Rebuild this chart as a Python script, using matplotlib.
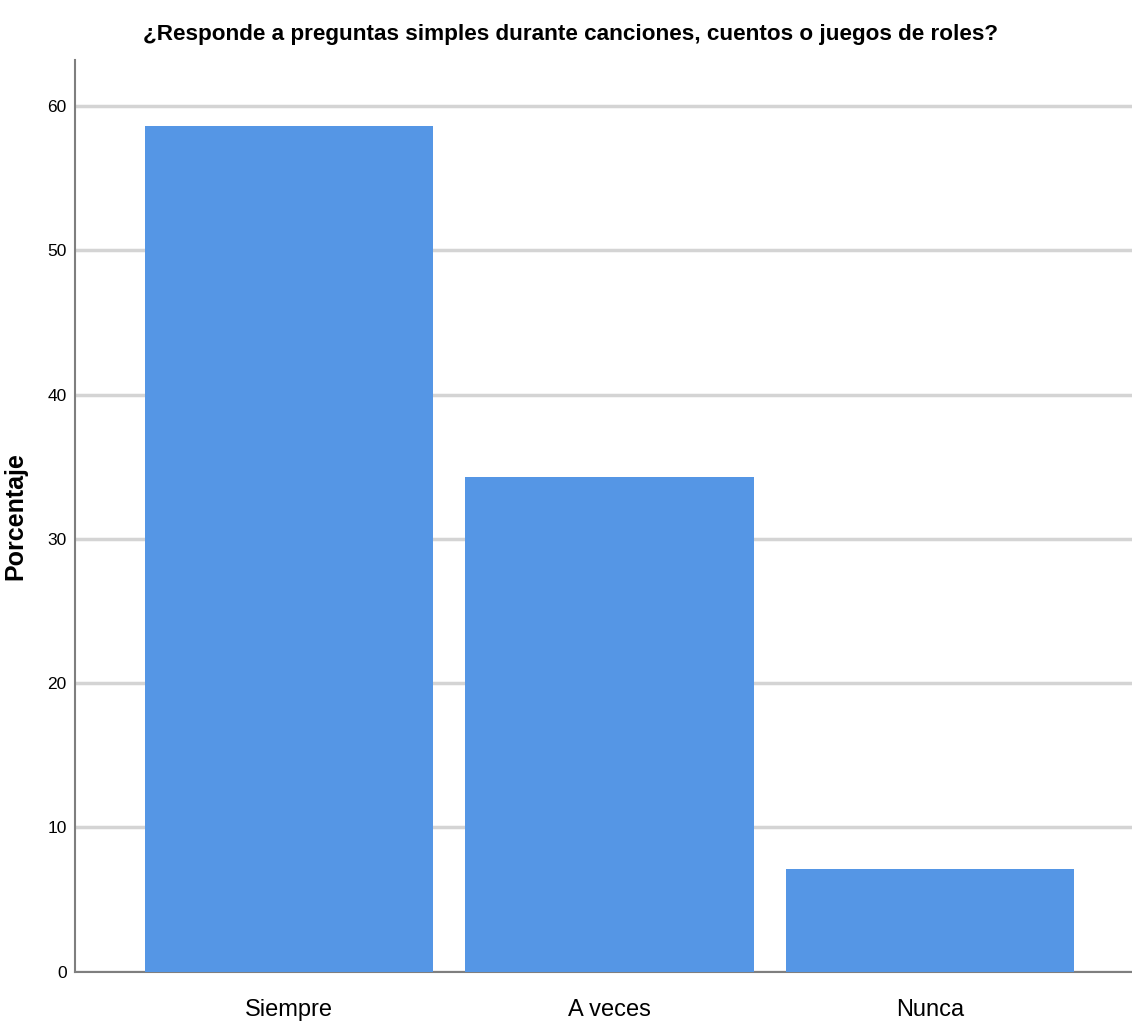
import matplotlib.pyplot as plt
import numpy as np

categories = ['Siempre', 'A veces', 'Nunca']
percent = [58.6, 34.3, 7.1]
yticks = [0, 10, 20, 30, 40, 50, 60]

font = ['Liberation Sans', 'DejaVu Sans']

fig = plt.figure(figsize=(11.32, 10.26), dpi=100)
ax = fig.add_axes([0.0663, 0.053, 0.9337, 0.8885])

x = np.arange(len(categories))
ax.bar(x, percent, width=0.9, color='#5596E5', zorder=3)

ax.set_xlim(-0.668, 2.63)
ax.set_ylim(0, 63.2)
ax.set_yticks(yticks)
ax.set_yticklabels([str(t) for t in yticks], family=font, fontsize=12.5)
ax.set_xticks(x)
ax.set_xticklabels(categories, family=font, fontsize=17)
ax.tick_params(axis='y', length=0, pad=6)
ax.tick_params(axis='x', length=0, pad=20)

ax.yaxis.grid(True, color='#D4D4D4', linewidth=2.5, zorder=0)
ax.set_axisbelow(True)
for s in ['top', 'right']:
    ax.spines[s].set_visible(False)
for s in ['left', 'bottom']:
    ax.spines[s].set_color('#7F7F7F')
    ax.spines[s].set_linewidth(1.5)

ax.set_ylabel('Porcentaje', fontsize=18, fontweight='bold', family=font)
ax.yaxis.set_label_coords(-0.045, 0.5)
fig.text(0.504, 0.966, '¿Responde a preguntas simples durante canciones, cuentos o juegos de roles?',
         ha='center', va='center', fontsize=16.2, fontweight='bold', family=font)

plt.savefig('out.png', dpi=100)
